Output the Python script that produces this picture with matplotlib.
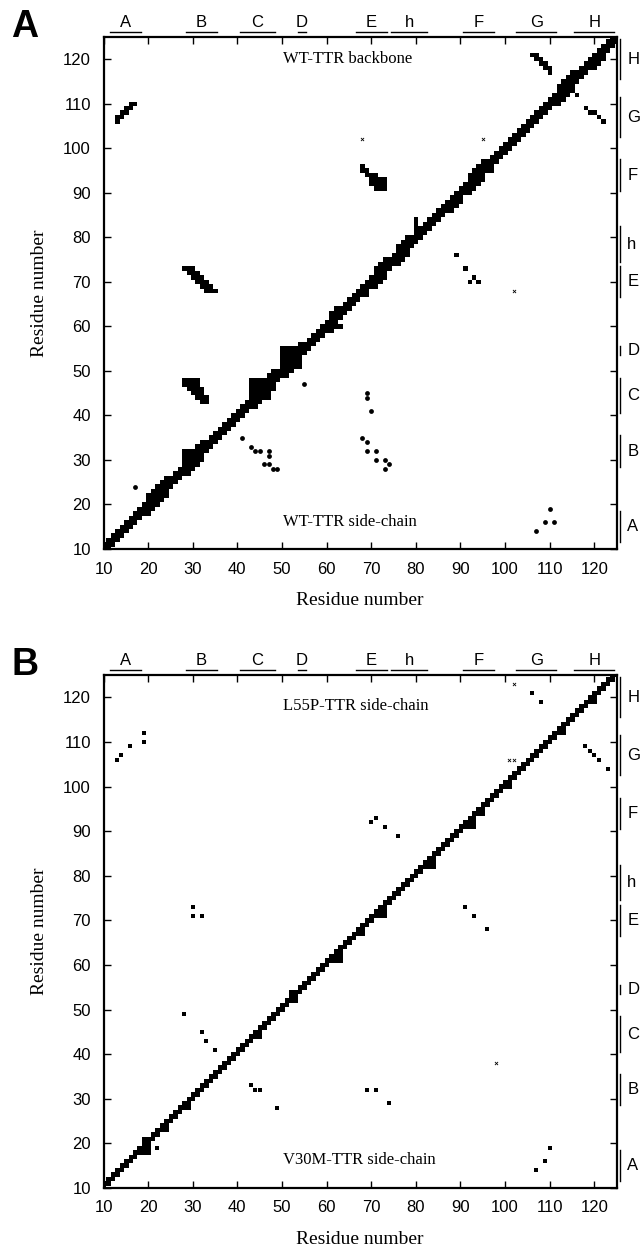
import matplotlib
matplotlib.use('Agg')
import numpy as np
import matplotlib.pyplot as plt

# Secondary structure elements of TTR (residue ranges)
ss_names = ['A', 'B', 'C', 'D', 'E', 'h', 'F', 'G', 'H']
ss_start = [12, 29, 41, 54, 67, 75, 91, 103, 116]
ss_end = [18, 35, 48, 55, 73, 82, 97, 111, 124]

ticks = [10, 20, 30, 40, 50, 60, 70, 80, 90, 100, 110, 120]
first_res, last_res = 10, 125

# Sequential band along the diagonal: (first, last, lowest offset, highest offset)
A_band = [(10, 125, -1, 1), (20, 24, -2, 2), (29, 32, -2, 2), (44, 48, -2, 2),
          (51, 54, -2, 2), (61, 62, -2, 2), (71, 73, -2, 2), (76, 78, -2, 2),
          (88, 90, -2, 1), (92, 95, -2, 2), (112, 115, -2, 2), (120, 122, -2, 1)]
B_band = [(10, 125, 0, 1)]

# Denser patches on the diagonal: (x0, x1, y0, y1)
A_blocks = [(43, 47, 44, 48), (50, 54, 51, 55), (28, 30, 29, 32)]
B_blocks = [(19, 20, 18, 21), (23, 24, 23, 24), (28, 29, 28, 29), (44, 45, 44, 45),
            (52, 53, 52, 54), (62, 63, 61, 63), (67, 68, 67, 68), (72, 73, 71, 73),
            (83, 84, 82, 84), (92, 93, 91, 93), (94, 95, 94, 95), (100, 101, 100, 101),
            (112, 113, 112, 113), (119, 120, 119, 120)]

# WT backbone contacts (upper triangle)
A_bb_x = [13, 13, 14, 14, 15, 15, 16, 16, 17,
          28, 29, 30, 29, 30, 31, 30, 31, 32, 31, 32, 33, 32, 33, 34, 33, 34, 35,
          28, 29, 30, 31, 28, 29, 30, 31, 29, 30, 31, 32, 30, 31, 32, 31, 32, 33, 32, 33,
          68, 68, 69, 69, 70, 71, 70, 71, 72, 73, 70, 71, 72, 73, 71, 72, 73,
          106, 107, 107, 108, 108, 109, 109, 110, 110,
          80, 80, 80]
A_bb_y = [106, 107, 107, 108, 108, 109, 109, 110, 110,
          73, 73, 73, 72, 72, 72, 71, 71, 71, 70, 70, 70, 69, 69, 69, 68, 68, 68,
          48, 48, 48, 48, 47, 47, 47, 47, 46, 46, 46, 46, 45, 45, 45, 44, 44, 44, 43, 43,
          96, 95, 95, 94, 94, 94, 93, 93, 93, 93, 92, 92, 92, 92, 91, 91, 91,
          121, 121, 120, 120, 119, 119, 118, 118, 117,
          82, 83, 84]

# WT side-chain contacts, round dots
A_sc_x = [17, 41, 43, 44, 45, 47, 47, 46, 47, 48, 49, 55, 69, 69, 70, 68, 69, 69, 71,
          71, 73, 74, 73, 107, 109, 111, 110]
A_sc_y = [24, 35, 33, 32, 32, 32, 31, 29, 29, 28, 28, 47, 44, 45, 41, 35, 34, 32, 32,
          30, 30, 29, 28, 14, 16, 16, 19]
# WT side-chain contacts drawn as cells
A_scq_x = [89, 91, 92, 93, 94, 118, 119, 120, 121, 122, 97, 73, 69, 63, 116]
A_scq_y = [76, 73, 70, 71, 70, 109, 108, 108, 107, 106, 95, 71, 67, 60, 112]
# weak contacts (x)
A_w_x = [68, 95, 102]
A_w_y = [102, 102, 68]

# L55P (upper) and V30M (lower) side-chain contacts
B_sc_x = [13, 14, 16, 19, 19, 30, 30, 32, 106, 108, 70, 71, 73, 76,
          118, 119, 120, 121, 123, 91, 93, 96, 28, 32, 33, 35, 43, 44, 45, 49,
          69, 71, 74, 22, 107, 109, 110]
B_sc_y = [106, 107, 109, 110, 112, 73, 71, 71, 121, 119, 92, 93, 91, 89,
          109, 108, 107, 106, 104, 73, 71, 68, 49, 45, 43, 41, 33, 32, 32, 28,
          32, 32, 29, 19, 14, 16, 19]
B_w_x = [102, 101, 102, 98]
B_w_y = [123, 106, 106, 38]

sans = ['Liberation Sans', 'DejaVu Sans']
serif = ['Liberation Serif', 'DejaVu Serif']

fig = plt.figure(figsize=(6.42, 12.49), dpi=100)
axA = fig.add_axes([103.5 / 642, 1 - 549 / 1249, 513 / 642, 512 / 1249])
axB = fig.add_axes([103.5 / 642, 1 - 1188 / 1249, 513 / 642, 513 / 1249])


def contact_matrix(band, blocks, xs, ys):
    n = last_res - first_res + 1
    m = np.zeros((n, n))
    for first, last, lo, hi in band:
        for i in range(first, last + 1):
            for k in range(lo, hi + 1):
                if first_res <= i + k <= last_res:
                    m[i + k - first_res, i - first_res] = 1
    for x0, x1, y0, y1 in blocks:
        m[y0 - first_res:y1 - first_res + 1, x0 - first_res:x1 - first_res + 1] = 1
    for x, y in zip(xs, ys):
        m[y - first_res, x - first_res] = 1
    return m


def draw_map(ax, m):
    ax.imshow(m, origin='lower', cmap='gray_r', vmin=0, vmax=1,
              interpolation='nearest', aspect='auto',
              extent=(first_res - 0.5, last_res + 0.5, first_res - 0.5, last_res + 0.5))


def setup(ax, letter):
    ax.set_xlim(10, 125)
    ax.set_ylim(10, 125)
    ax.set_xticks(ticks)
    ax.set_yticks(ticks)
    ax.tick_params(direction='in', top=True, right=True, length=5, width=1,
                   labelsize=12, pad=9)
    for lab in ax.get_xticklabels() + ax.get_yticklabels():
        lab.set_family(sans)
    for sp in ax.spines.values():
        sp.set_linewidth(1.6)
    ax.set_xlabel('Residue number', family=serif, fontsize=14)
    ax.set_ylabel('Residue number', family=serif, fontsize=14)
    ax.xaxis.set_label_coords(0.5, -0.084)
    ax.yaxis.set_label_coords(-0.108, 0.5)
    xt = ax.get_xaxis_transform()
    yt = ax.get_yaxis_transform()
    for name, s, e in zip(ss_names, ss_start, ss_end):
        ax.plot([s - 0.5, e + 0.5], [1.0104, 1.0104], color='k', lw=1,
                transform=xt, clip_on=False)
        ax.text((s + e) / 2, 1.028, name, transform=xt, ha='center', va='center',
                fontsize=12, family=sans)
        ax.plot([1.0072, 1.0072], [s - 0.5, e + 0.5], color='k', lw=1,
                transform=yt, clip_on=False)
        ax.text(1.021, (s + e) / 2, name, transform=yt, ha='left', va='center',
                fontsize=12, family=sans)
    ax.text(-0.153, 1.02, letter, transform=ax.transAxes, ha='center', va='center',
            fontsize=27, fontweight='bold', family=sans)


# Panel A
draw_map(axA, contact_matrix(A_band, A_blocks, A_bb_x + A_scq_x, A_bb_y + A_scq_y))
axA.scatter(A_sc_x, A_sc_y, marker='o', s=12, c='k', linewidths=0)
axA.scatter(A_w_x, A_w_y, marker='x', s=5, c='k', linewidths=0.6)
axA.text(50.3, 120, 'WT-TTR backbone', family=serif, fontsize=12, va='center')
axA.text(50.3, 16.1, 'WT-TTR side-chain', family=serif, fontsize=12, va='center')
setup(axA, 'A')

# Panel B
draw_map(axB, contact_matrix(B_band, B_blocks, [], []))
axB.scatter(B_sc_x, B_sc_y, marker='s', s=8, c='k', linewidths=0)
axB.scatter(B_w_x, B_w_y, marker='x', s=5, c='k', linewidths=0.6)
axB.text(50.3, 118, 'L55P-TTR side-chain', family=serif, fontsize=12, va='center')
axB.text(50.3, 16.3, 'V30M-TTR side-chain', family=serif, fontsize=12, va='center')
setup(axB, 'B')

fig.savefig('out.png', dpi=100)
